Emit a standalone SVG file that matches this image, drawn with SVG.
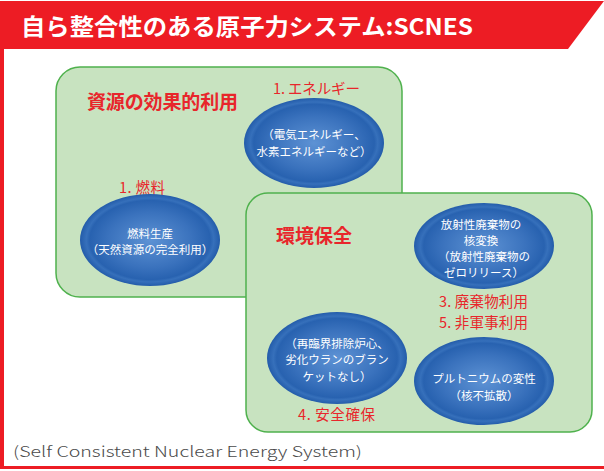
<svg xmlns="http://www.w3.org/2000/svg" width="604" height="471" viewBox="0 0 604 471">
<defs>
<radialGradient id="eg" cx="50%" cy="50%" r="50%">
<stop offset="0%" stop-color="#5d92d4"/>
<stop offset="60%" stop-color="#3a72bd"/>
<stop offset="86%" stop-color="#2862b0"/>
<stop offset="91%" stop-color="#3670bb"/>
<stop offset="100%" stop-color="#235caa"/>
</radialGradient>
<style>
.box{fill:#c8e3c0;stroke:#4fb14d;stroke-width:1.5}
.ell{fill:url(#eg)}
.jp{font-family:"Noto Sans CJK JP","Noto Sans",sans-serif}
.red{fill:#e8262b;font-size:14.5px}
.big{fill:#e8262b;font-size:19px;font-weight:bold}
.wt{fill:#ffffff;font-size:11.5px;text-anchor:middle}
</style>
</defs>
<rect x="0" y="0" width="604" height="471" fill="#ffffff"/>
<g id="frame">
<polygon points="0,1 604,1 568,49 0,49" fill="#ed1c24"/>
<rect x="0" y="49" width="4" height="420" fill="#ed1c24"/>
<rect x="0" y="466" width="604" height="3" fill="#ed1c24"/>
<text x="21" y="35" class="jp" font-size="23" font-weight="bold" fill="#ffffff" textLength="452" lengthAdjust="spacingAndGlyphs">自ら整合性のある原子力システム:SCNES</text>
</g>
<g id="resource">
<rect class="box" x="56" y="67" width="346" height="230" rx="24"/>
<text class="jp big" x="87" y="109" textLength="151">資源の効果的利用</text>
</g>
<g id="environment">
<rect class="box" x="246" y="193" width="346" height="239" rx="22"/>
<text class="jp big" x="276" y="243" textLength="76">環境保全</text>
</g>
<g id="energy">
<text class="jp red" x="273" y="94" textLength="87">1. エネルギー</text>
<ellipse class="ell" cx="314" cy="143" rx="70" ry="45"/>
<text class="jp wt" x="314" y="139">（電気エネルギー、</text>
<text class="jp wt" x="314" y="156">水素エネルギーなど）</text>
</g>
<g id="fuel">
<text class="jp red" x="119" y="193" textLength="46">1. 燃料</text>
<ellipse class="ell" cx="150" cy="240" rx="70" ry="46"/>
<text class="jp wt" x="150" y="238">燃料生産</text>
<text class="jp wt" x="150" y="254">（天然資源の完全利用）</text>
</g>
<g id="waste">
<ellipse class="ell" cx="484" cy="246" rx="70" ry="43"/>
<text class="jp wt" x="481" y="229" font-size="11">放射性廃棄物の</text>
<text class="jp wt" x="481" y="245" font-size="11">核変換</text>
<text class="jp wt" x="484" y="261" font-size="11">（放射性廃棄物の</text>
<text class="jp wt" x="484" y="277" font-size="11">ゼロリリース）</text>
<text class="jp red" x="439" y="307" textLength="89">3. 廃棄物利用</text>
<text class="jp red" x="439" y="328" textLength="89">5. 非軍事利用</text>
</g>
<g id="safety">
<ellipse class="ell" cx="337" cy="358" rx="70" ry="46"/>
<text class="jp wt" x="337" y="348">（再臨界排除炉心、</text>
<text class="jp wt" x="337" y="364">劣化ウランのブラン</text>
<text class="jp wt" x="337" y="381">ケットなし）</text>
<text class="jp red" x="298" y="420" textLength="77">4. 安全確保</text>
</g>
<g id="plutonium">
<ellipse class="ell" cx="484" cy="381" rx="70" ry="44"/>
<text class="jp wt" x="484" y="383">プルトニウムの変性</text>
<text class="jp wt" x="484" y="400">（核不拡散）</text>
</g>
<g id="connectors"></g>
<text x="13" y="457" font-family="'Noto Sans CJK JP','Noto Sans',sans-serif" font-weight="300" font-size="15" fill="#4a4a4a" textLength="349" lengthAdjust="spacingAndGlyphs">(Self Consistent Nuclear Energy System)</text>
</svg>
